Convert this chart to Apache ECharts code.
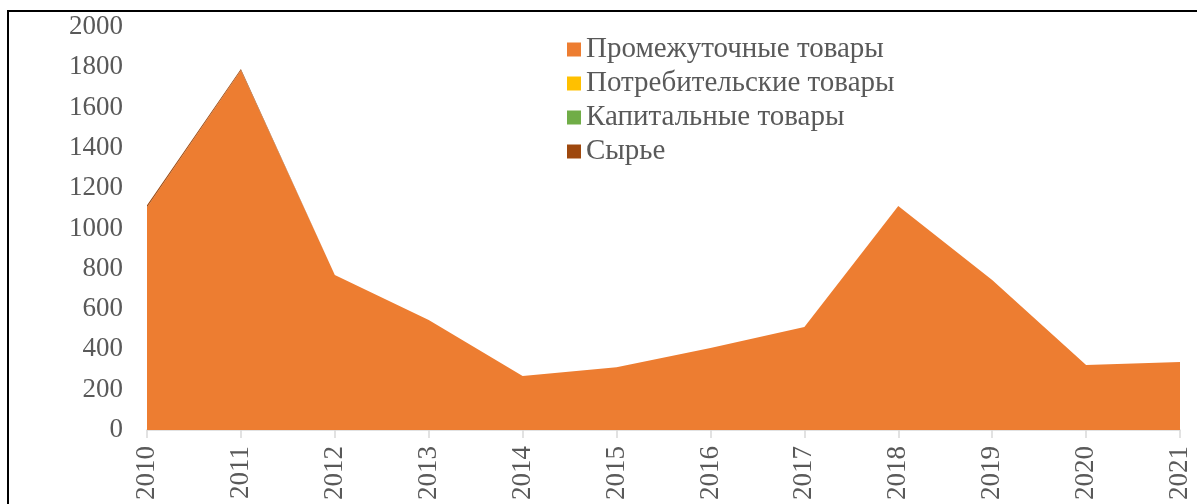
<!DOCTYPE html>
<html>
<head>
<meta charset="utf-8">
<script src="https://cdn.jsdelivr.net/npm/echarts@6/dist/echarts.min.js"></script>
<style>
html,body{margin:0;padding:0;background:#fff;}
#chart{width:1197px;height:504px;}
</style>
</head>
<body>
<div id="chart"></div>
<script>
var years = ['2010','2011','2012','2013','2014','2015','2016','2017','2018','2019','2020','2021'];
var intermediate = [1105, 1785, 769, 546, 268, 311, 407, 511, 1112, 744, 323, 338];
var consumer = [0, 0, 0, 0, 0, 0, 0, 0, 0, 0, 0, 0];
var capital = [0, 0, 0, 0, 0, 0, 0, 0, 0, 0, 0, 0];
var raw = [10, 6, 0, 0, 0, 0, 0, 0, 0, 0, 0, 0];
var seriesNames = ['Промежуточные товары','Потребительские товары','Капитальные товары','Сырье'];
var seriesColors = ['#ED7D31','#FFC000','#70AD47','#9E480E'];
var yTicks = {min: 0, max: 2000, interval: 200};

var font = 'Liberation Serif, Times New Roman, serif';
var data = [intermediate, consumer, capital, raw];
var chart = echarts.init(document.getElementById('chart'));
chart.setOption({
  animation: false,
  backgroundColor: '#fff',
  grid: {left: 147, right: 17, top: 27, bottom: 74},
  legend: {
    orient: 'vertical', left: 562, top: 28,
    itemWidth: 14, itemHeight: 14, itemGap: 1,
    icon: 'rect',
    textStyle: {fontFamily: font, fontSize: 29, lineHeight: 33, color: '#595959', padding: [0,0,0,0]},
    data: seriesNames
  },
  xAxis: {
    type: 'category', data: years, boundaryGap: false,
    axisLine: {lineStyle: {color: '#D9D9D9', width: 1.5}},
    axisTick: {show: true, alignWithLabel: true, length: 8, lineStyle: {color: '#D9D9D9', width: 1.5}},
    axisLabel: {rotate: 90, fontFamily: font, fontSize: 27, color: '#595959', margin: 16}
  },
  yAxis: {
    type: 'value', min: yTicks.min, max: yTicks.max, interval: yTicks.interval,
    axisLine: {show: false}, axisTick: {show: false}, splitLine: {show: false},
    axisLabel: {fontFamily: font, fontSize: 27, color: '#595959', margin: 24, formatter: function (v) { return String(v); }}
  },
  graphic: [
    {type: 'polyline', shape: {points: [[8, 504], [8, 11], [1197, 11]]}, style: {stroke: '#000', lineWidth: 2, fill: null}}
  ],
  series: seriesNames.map(function (n, i) {
    return {
      name: n, type: 'line', stack: 'total', data: data[i],
      showSymbol: false, symbol: 'none',
      lineStyle: {width: 0, color: seriesColors[i]},
      itemStyle: {color: seriesColors[i]},
      areaStyle: {color: seriesColors[i], opacity: 1}
    };
  })
});
</script>
</body>
</html>
